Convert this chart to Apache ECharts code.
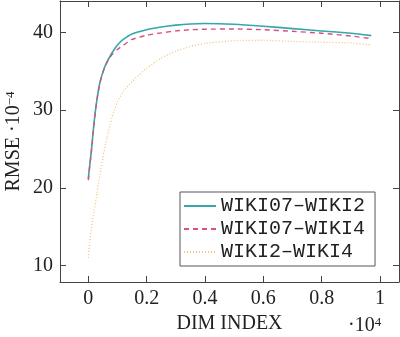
<!DOCTYPE html>
<html>
<head>
<meta charset="utf-8">
<script src="https://cdn.jsdelivr.net/npm/echarts@6/dist/echarts.min.js"></script>
<style>
  html, body { margin: 0; padding: 0; background: #fff; }
  #chart { width: 400px; height: 337px; }
</style>
</head>
<body>
<div id="chart"></div>
<script>
// dim index, in units of 10^4
const dimIndex = [0, 0.005, 0.01, 0.02, 0.03, 0.04, 0.05, 0.06, 0.08, 0.1, 0.12, 0.15, 0.2, 0.25, 0.3, 0.35, 0.4, 0.5, 0.6, 0.7, 0.8, 0.9, 0.97];
// RMSE, in units of 10^-4
const wiki07Wiki2 = [21.2, 23.0, 24.6, 28.5, 31.5, 33.6, 34.9, 35.9, 37.3, 38.4, 39.1, 39.8, 40.35, 40.7, 40.95, 41.1, 41.15, 41.05, 40.8, 40.5, 40.2, 39.9, 39.6];
const wiki07Wiki4 = [21.0, 22.8, 24.4, 28.4, 31.4, 33.5, 34.85, 35.85, 37.1, 37.8, 38.35, 39.1, 39.65, 39.95, 40.2, 40.35, 40.42, 40.45, 40.35, 40.15, 39.9, 39.55, 39.2];
const wiki2Wiki4 = [11.0, 13.0, 14.6, 17.0, 19.4, 21.8, 23.9, 25.8, 28.9, 31.1, 32.4, 33.7, 35.4, 36.7, 37.6, 38.2, 38.6, 38.95, 39.0, 38.85, 38.75, 38.65, 38.4];

const seriesNames = ['WIKI07\u2013WIKI2', 'WIKI07\u2013WIKI4', 'WIKI2\u2013WIKI4'];
const xTicks = [0, 0.2, 0.4, 0.6, 0.8, 1];
const yTicks = [10, 20, 30, 40];

const serifFont = 'Liberation Serif';
const axisColor = '#444';

function pairs(ys) {
  return dimIndex.map((x, i) => [x, ys[i]]);
}

let chart = echarts.init(document.getElementById('chart'));

function xAxisOf(pos, showLabel) {
  return {
    type: 'value',
    position: pos,
    min: -0.097,
    max: 1.065,
    axisLine: { show: true, onZero: false, lineStyle: { color: axisColor, width: 1 } },
    axisTick: { show: true, inside: true, length: 6, customValues: xTicks, lineStyle: { color: axisColor } },
    axisLabel: {
      show: showLabel,
      customValues: xTicks,
      margin: 7,
      color: '#222',
      fontFamily: serifFont,
      fontSize: 20,
      formatter: v => String(Math.round(v * 10) / 10)
    },
    splitLine: { show: false },
    name: showLabel ? 'DIM INDEX' : '',
    nameLocation: 'middle',
    nameGap: 32,
    nameMoveOverlap: false,
    nameTextStyle: { color: '#222', fontFamily: serifFont, fontSize: 20 }
  };
}

function yAxisOf(pos, showLabel) {
  return {
    type: 'value',
    position: pos,
    min: 7.9,
    max: 44.05,
    axisLine: { show: true, onZero: false, lineStyle: { color: axisColor, width: 1 } },
    axisTick: { show: true, inside: true, length: 6, customValues: yTicks, lineStyle: { color: axisColor } },
    axisLabel: {
      show: showLabel,
      customValues: yTicks,
      margin: 7,
      color: '#222',
      fontFamily: serifFont,
      fontSize: 20
    },
    splitLine: { show: false },
    name: showLabel ? '{a|RMSE \u00b710}{b|\u22124}' : '',
    nameLocation: 'middle',
    nameRotate: 90,
    nameGap: 36,
    nameMoveOverlap: false,
    nameTextStyle: {
      rich: {
        a: { color: '#222', fontFamily: serifFont, fontSize: 20, verticalAlign: 'bottom' },
        b: { color: '#222', fontFamily: serifFont, fontSize: 13, verticalAlign: 'top' }
      }
    }
  };
}

let option = {
  backgroundColor: '#fff',
  animation: false,
  grid: { left: 60, right: 1, top: 1, bottom: 55, outerBoundsMode: 'none', containLabel: false },
  xAxis: [xAxisOf('bottom', true), xAxisOf('top', false)],
  yAxis: [yAxisOf('left', true), yAxisOf('right', false)],
  legend: {
    orient: 'vertical',
    left: 180,
    top: 192,
    padding: [4, 10, 4, 3],
    itemGap: 3,
    itemWidth: 32,
    itemHeight: 14,
    borderColor: '#555',
    borderWidth: 1,
    backgroundColor: '#fff',
    data: seriesNames,
    itemStyle: { opacity: 0 },
    textStyle: { color: '#222', fontFamily: 'Liberation Mono', fontSize: 20, lineHeight: 20, padding: [0, 0, 0, 0] }
  },
  graphic: [{
    type: 'text',
    left: 348,
    top: 316,
    style: {
      text: '{a|\u00b710}{b|4}',
      rich: {
        a: { fill: '#222', fontFamily: serifFont, fontSize: 20, verticalAlign: 'bottom' },
        b: { fill: '#222', fontFamily: serifFont, fontSize: 13, verticalAlign: 'top' }
      }
    }
  }],
  series: [
    {
      name: seriesNames[0],
      type: 'line',
      data: pairs(wiki07Wiki2),
      symbol: 'none',
      smooth: 0.2,
      itemStyle: { color: '#35a7a8' },
      lineStyle: { color: '#35a7a8', width: 1.6 },
      z: 3
    },
    {
      name: seriesNames[1],
      type: 'line',
      data: pairs(wiki07Wiki4),
      symbol: 'none',
      smooth: 0.2,
      itemStyle: { color: '#d9507f' },
      lineStyle: { color: '#d9507f', width: 1.4, type: [5, 4] },
      z: 4
    },
    {
      name: seriesNames[2],
      type: 'line',
      data: pairs(wiki2Wiki4),
      symbol: 'none',
      smooth: 0.2,
      itemStyle: { color: '#f2c27f' },
      lineStyle: { color: '#f2c27f', width: 1.3, type: [1, 2] },
      z: 2
    }
  ]
};

option && chart.setOption(option);
</script>
</body>
</html>
